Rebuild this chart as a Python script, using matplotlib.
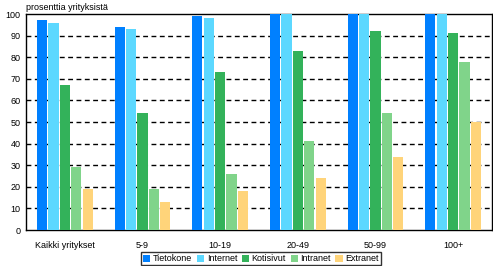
import numpy as np
import matplotlib.pyplot as plt

plt.rcParams['font.family'] = ['Liberation Sans', 'DejaVu Sans']

groups = ["Kaikki yritykset", "5-9", "10-19", "20-49", "50-99", "100+"]
series = ["Tietokone", "Internet", "Kotisivut", "Intranet", "Extranet"]
tietokone = [97, 94, 99, 100, 100, 100]
internet = [96, 93, 98, 100, 100, 100]
kotisivut = [67, 54, 73, 83, 92, 91]
intranet = [29, 19, 26, 41, 54, 78]
extranet = [19, 13, 18, 24, 34, 50]
colors = ['#0080FF', '#5CD8FF', '#33B25A', '#80D48A', '#FFD47A']

values = [tietokone, internet, kotisivut, intranet, extranet]

fig = plt.figure(figsize=(4.93, 2.66), dpi=100)
ax = fig.add_axes([26/493, 36/266, 466/493, 216/266])

x = np.arange(len(groups))
slot = 0.147
w = 0.133
for i, (vals, c, name) in enumerate(zip(values, colors, series)):
    ax.bar(x + (i - 2) * slot, vals, width=w, color=c, label=name, zorder=3)

ax.set_xlim(-0.5, len(groups) - 0.5)
ax.set_ylim(0, 100)
ax.set_yticks(range(0, 101, 10))
ax.set_xticks(x)
ax.set_xticklabels(groups)
ax.tick_params(axis='both', labelsize=6.5, length=0, pad=4)
ax.tick_params(axis='x', pad=8)
for y in range(10, 100, 10):
    ax.axhline(y, color='black', lw=1, ls=(0, (3.5, 2.5)), zorder=1)
for s in ax.spines.values():
    s.set_linewidth(1)
    s.set_color('black')

fig.text(26/493, 1 - 7/266, "prosenttia yrityksistä", fontsize=6.5, va='center', ha='left')

leg = ax.legend(loc='lower center', ncol=5,
                fontsize=6.5, frameon=True, fancybox=False, handlelength=0.8,
                handleheight=0.8, handletextpad=0.3, columnspacing=0.5,
                borderpad=0.2, borderaxespad=0)
leg.get_frame().set_edgecolor('black')
leg.get_frame().set_linewidth(1)
leg.set_bbox_to_anchor((261/493, 1 - 265/266), transform=fig.transFigure)

fig.savefig('out.png', dpi=100)
